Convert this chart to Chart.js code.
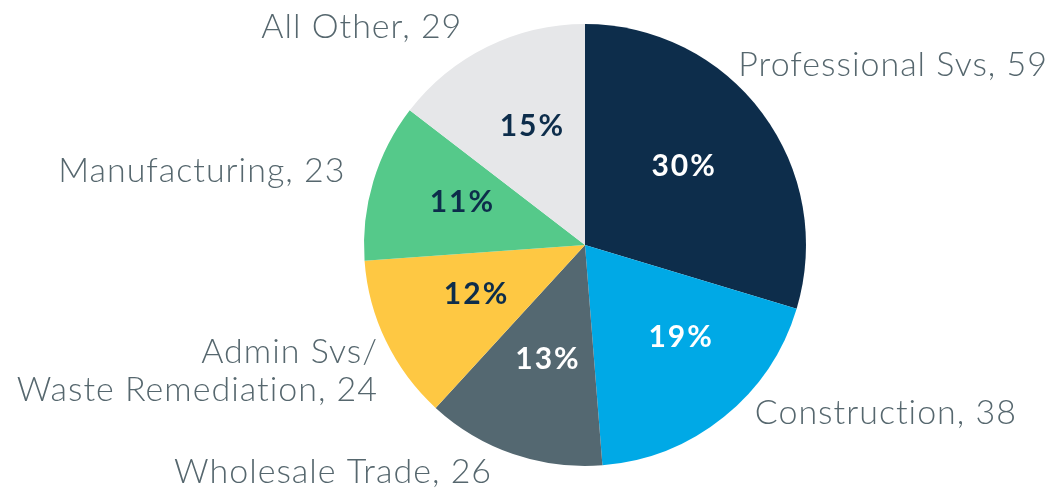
<!DOCTYPE html>
<html>
<head>
<meta charset="utf-8">
<script src="https://cdn.jsdelivr.net/npm/chart.js@4"></script>
<style>
html,body{margin:0;padding:0;background:#fff;}
#wrap{width:1052px;height:496px;position:relative;}
</style>
</head>
<body>
<div id="wrap"><canvas id="c" width="1052" height="496"></canvas></div>
<script>
// ---- data ----
const categories = ["Professional Svs", "Construction", "Wholesale Trade", ["Admin Svs/", "Waste Remediation"], "Manufacturing", "All Other"];
const values = [59, 38, 26, 24, 23, 29];
const pctLabels = ["30%", "19%", "13%", "12%", "11%", "15%"];

// ---- style ----
const colors = ["#0d2d4b", "#00a9e6", "#546871", "#fec843", "#55c98a", "#e6e7e9"];
const pctColors = ["#ffffff", "#ffffff", "#ffffff", "#0d2d4b", "#0d2d4b", "#0d2d4b"];
// label layout: [dx, dy] from slice edge point, alignment
const outLayout = [
  {dx: -24, dy: -48, align: "left"},
  {dx: 31, dy: -4, align: "left"},
  {dx: -21, dy: 18, align: "right"},
  {dx: -8, dy: 30, align: "right"},
  {dx: -28, dy: -10, align: "right"},
  {dx: -25, dy: -20, align: "right"}
];
// small nudges for inside labels
const inNudge = [
  {dx: -2, dy: -4},
  {dx: 17, dy: -6},
  {dx: 4, dy: -5},
  {dx: 5, dy: -5},
  {dx: -2, dy: -6},
  {dx: 3, dy: -6}
];
const textColor = "#56676e";
const outFont = "300 34px Lato";
const outSpacing = "1px";
const pctFont = "bold 30px Lato";
const pctSpacing = "2px";

const labelPlugin = {
  id: "pieLabels",
  afterDatasetsDraw(chart) {
    const ctx = chart.ctx;
    const meta = chart.getDatasetMeta(0);
    meta.data.forEach((arc, i) => {
      const p = arc.getProps(["x", "y", "startAngle", "endAngle", "outerRadius"], true);
      const mid = (p.startAngle + p.endAngle) / 2;
      // percentage inside
      const ri = p.outerRadius * 0.57;
      ctx.save();
      ctx.font = pctFont;
      if ("letterSpacing" in ctx) ctx.letterSpacing = pctSpacing;
      ctx.fillStyle = pctColors[i];
      ctx.textAlign = "center";
      ctx.textBaseline = "middle";
      ctx.fillText(pctLabels[i], p.x + Math.cos(mid) * ri + inNudge[i].dx, p.y + Math.sin(mid) * ri + inNudge[i].dy);
      // outside label
      const ex = p.x + Math.cos(mid) * p.outerRadius;
      const ey = p.y + Math.sin(mid) * p.outerRadius;
      const L = outLayout[i];
      const lines = Array.isArray(categories[i]) ? categories[i].slice() : [categories[i]];
      lines[lines.length - 1] = lines[lines.length - 1] + ", " + values[i];
      ctx.font = outFont;
      if ("letterSpacing" in ctx) ctx.letterSpacing = outSpacing;
      ctx.fillStyle = textColor;
      ctx.textAlign = L.align;
      const lh = 38;
      const y0 = ey + L.dy - (lines.length - 1) * lh / 2;
      lines.forEach((t, k) => ctx.fillText(t, ex + L.dx, y0 + k * lh));
      ctx.restore();
    });
  }
};

new Chart(document.getElementById("c"), {
  type: "pie",
  data: {
    labels: categories.map(c => Array.isArray(c) ? c.join(" ") : c),
    datasets: [{ data: values, backgroundColor: colors, borderWidth: 0 }]
  },
  options: {
    responsive: false,
    animation: false,
    layout: { padding: { top: 24, bottom: 30, left: 364, right: 246 } },
    plugins: { legend: { display: false }, tooltip: { enabled: false } }
  },
  plugins: [labelPlugin]
});
</script>
</body>
</html>
